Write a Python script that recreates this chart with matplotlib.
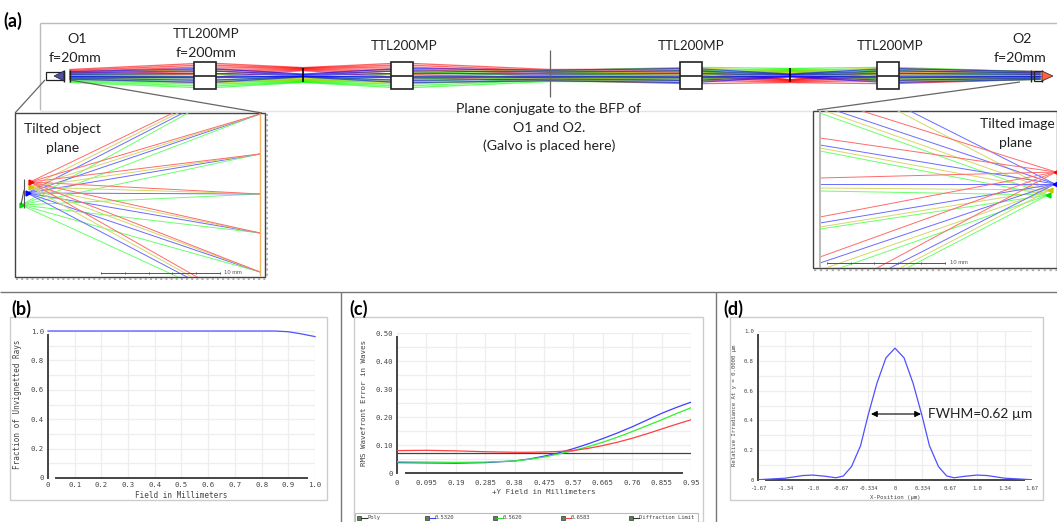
import numpy as np
import matplotlib
matplotlib.use('Agg')
import matplotlib.pyplot as plt
from matplotlib.patches import Rectangle, Polygon

W = 1057
H = 522
SANS = 'Lato'
MONO = 'DejaVu Sans Mono'

# (a) relay bundle, offsets in px around the axis
station_x = [70, 207, 303, 402, 550, 691, 790, 889, 1040]
red_centre = [-1, -3, -6, -3, 1, 3, 6, 3, 1]
yellow_centre = [0, 1, 3, 1, 0, -1, -3, -1, 0]
blue_centre = [0, 0, 0, 0, 0, 0, 0, 0, 0]
green_centre = [2, 3, 5, 3, -1, -3, -6, -3, -1]
half_width = [5, 9.5, 1.9, 9.5, 7, 9.5, 1.9, 9.5, 5]
red_frac = [-1, -0.8, -0.6, -0.35, -0.1, 0.2, 0.55]
yellow_frac = [-0.7, -0.3, 0.05, 0.4, 0.7]
blue_frac = [-0.75, -0.5, -0.22, 0.0, 0.25, 0.52, 0.75]
green_frac = [-0.55, -0.2, 0.1, 0.35, 0.6, 0.8, 1]

lens_x = [194, 391, 680, 877]

# (a) left inset
left_src = {'r': (30, 182), 'y': (30, 187), 'b': (27, 193), 'g': (21, 205)}
left_targets = [114, 154, 194, 233, 272]
left_top_x = {'r': 173, 'y': 178, 'b': 183, 'g': 188}
left_bot_x = {'r': 197, 'y': 192, 'b': 187, 'g': 178}

# (a) right inset
right_src = {'r': (1056, 172), 'y': (1050, 190), 'b': (1055, 184), 'g': (1048, 195)}
right_ends = {
    'r': [(862, 111), (820, 138), (820, 178), (820, 217), (820, 257), (877, 268)],
    'y': [(898, 111), (825, 111), (820, 148), (820, 188), (820, 227), (820, 270), (900, 268)],
    'b': [(910, 111), (837, 111), (820, 145), (820, 184), (820, 223), (820, 263), (890, 268)],
    'g': [(820, 113), (820, 151), (820, 191), (820, 229), (820, 275), (907, 268)],
}
ray_col = {'r': '#ff6a6a', 'y': '#d6d66a', 'b': '#6a6aff', 'g': '#6aff6a'}
tip_col = {'r': '#ff0000', 'y': '#c8c800', 'b': '#0000ff', 'g': '#00e000'}

# (b)
b_x = [0, 0.85, 0.9, 0.95, 1.0]
b_y = [1.0, 1.0, 0.995, 0.98, 0.962]
b_xticks = [0, 0.1, 0.2, 0.3, 0.4, 0.5, 0.6, 0.7, 0.8, 0.9, 1.0]
b_xlabels = ['0', '0.1', '0.2', '0.3', '0.4', '0.5', '0.6', '0.7', '0.8', '0.9', '1.0']

# (c)
c_ticks = [0, 0.095, 0.19, 0.285, 0.38, 0.475, 0.57, 0.665, 0.76, 0.855, 0.95]
c_labels = ['0', '0.095', '0.19', '0.285', '0.38', '0.475', '0.57', '0.665', '0.76', '0.855', '0.95']
c_x = [0, 0.095, 0.19, 0.285, 0.38, 0.4275, 0.475, 0.5225, 0.57, 0.6175, 0.665, 0.7125, 0.76, 0.8075, 0.855, 0.9025, 0.95]
c_blue = [0.037, 0.036, 0.035, 0.037, 0.043, 0.050, 0.060, 0.072, 0.087, 0.104, 0.123, 0.143, 0.165, 0.189, 0.213, 0.234, 0.253]
c_green = [0.040, 0.039, 0.038, 0.039, 0.043, 0.049, 0.057, 0.068, 0.080, 0.094, 0.110, 0.128, 0.148, 0.169, 0.190, 0.212, 0.233]
c_red = [0.080, 0.081, 0.079, 0.076, 0.074, 0.074, 0.075, 0.077, 0.080, 0.088, 0.098, 0.110, 0.124, 0.140, 0.157, 0.174, 0.190]
c_limit_x = [0, 0.95]
c_limit = [0.073, 0.073]
c_legend = ['Poly', '0.5320', '0.5620', '0.6583', 'Diffraction Limit']
c_legend_col = ['#333333', '#4040ff', '#30e030', '#ff4040', '#333333']
c_legend_x = [357, 425, 493, 561, 629]

# (d)
d_x = [-1.67, -1.34, -1.12, -1.0, -0.85, -0.72, -0.63, -0.53, -0.42, -0.33, -0.22, -0.11, 0,
       0.11, 0.22, 0.33, 0.42, 0.53, 0.63, 0.72, 0.85, 1.0, 1.12, 1.34, 1.67]
d_y = [0.002, 0.012, 0.030, 0.033, 0.025, 0.015, 0.027, 0.09, 0.23, 0.43, 0.65, 0.82, 0.885,
       0.82, 0.65, 0.43, 0.23, 0.09, 0.027, 0.015, 0.025, 0.033, 0.030, 0.012, 0.002]
d_ticks = [-1.67, -1.34, -1.0, -0.67, -0.334, 0, 0.334, 0.67, 1.0, 1.34, 1.67]
d_labels = ['-1.67', '-1.34', '-1.0', '-0.67', '-0.334', '0', '0.334', '0.67', '1.0', '1.34', '1.67']

fig = plt.figure(figsize=(W / 100, H / 100), dpi=100)
bg = fig.add_axes([0, 0, 1, 1])
bg.set_xlim(0, W)
bg.set_ylim(H, 0)
bg.axis('off')


def txt(x, y, s, size=10.2, **kw):
    kw.setdefault('family', SANS)
    kw.setdefault('color', '#222222')
    kw.setdefault('ha', 'center')
    kw.setdefault('va', 'center')
    bg.text(x, y, s, fontsize=size, **kw)


def seg(xs, ys, c='#888888', lw=0.8, **kw):
    bg.plot(xs, ys, color=c, lw=lw, solid_capstyle='butt', **kw)


# frame of the layout
seg([40, W], [23, 23], '#bbbbbb', 1.0)
seg([40, 40], [23, 110], '#bbbbbb', 1.0)
seg([40, W], [111, 111], '#e4e4e4', 1.0)

# relay bundle
y0 = 75.5
pure = [('#ff0000', red_centre, red_frac), ('#00ff00', green_centre, green_frac),
        ('#c8c800', yellow_centre, yellow_frac), ('#0000ff', blue_centre, blue_frac)]
for c, centre, fracs in pure:
    for f in fracs:
        ys = [y0 + m + f * w for m, w in zip(centre, half_width)]
        bg.plot(station_x, ys, color=c, lw=0.95, alpha=0.6, zorder=2)

seg([550, 550], [50, 97], '#666666', 0.9, zorder=3)
seg([303, 303], [68, 82], 'black', 1.2, zorder=3)
seg([790, 790], [68, 82], 'black', 1.2, zorder=3)
for x in lens_x:
    bg.add_patch(Rectangle((x, 62), 22, 27, fc='white', ec='#222222', lw=1.2, zorder=4))
    seg([x, x + 22], [75.5, 75.5], '#222222', 1.2, zorder=5)

# objectives
bg.add_patch(Rectangle((46, 72), 18, 8, fc='white', ec='#222222', lw=0.9, zorder=4))
bg.add_patch(Polygon([(54, 76), (64, 71), (64, 81)], fc='#5050a0', ec='#222222', lw=0.5, zorder=5))
seg([64, 64], [70, 82], '#222222', 1.0, zorder=5)
seg([70, 70], [70, 82], '#222222', 1.0, zorder=5)
bg.add_patch(Rectangle((1034, 71), 8, 10, fc='none', ec='#222222', lw=0.9, zorder=5))
seg([1031, 1031], [70, 82], '#222222', 1.0, zorder=5)
seg([1042, 1042], [70, 82], '#222222', 1.0, zorder=5)
bg.add_patch(Polygon([(1042, 71), (1042, 81), (1053, 76)], fc='#ff6040', ec='#222222', lw=0.5, zorder=5))

# connector lines to the insets
seg([45, 15], [80, 113], '#666666', 0.9, zorder=3)
seg([70, 262], [80, 113], '#666666', 0.9, zorder=3)
seg([1020, 817], [82, 110], '#666666', 0.9, zorder=3)

# left inset
left_clip = Rectangle((15, 113), 250, 164, fc='white', ec='#444444', lw=1.0, zorder=6)
bg.add_patch(left_clip)
for k in ['g', 'b', 'y', 'r']:
    sx, sy = left_src[k]
    ends = [(left_top_x[k], 113), (left_bot_x[k], 277)] + [(260, t) for t in left_targets]
    for ex, ey in ends:
        ln, = bg.plot([sx, ex], [sy, ey], color=ray_col[k], lw=0.7, zorder=7)
        ln.set_clip_path(left_clip)
    bg.plot(sx + 1, sy, marker='>', ms=3.5, color=tip_col[k], zorder=8)
seg([260, 260], [114, 276], '#f5b060', 1.0, zorder=8)
seg([24, 24], [179, 208], '#555555', 0.8, zorder=8)
seg([24, 21], [190, 205], '#555555', 0.8, zorder=8)
seg([266.5, 266.5], [114, 278], '#aaaaaa', 1.4, ls=':', zorder=6)
seg([16, 266], [278.5, 278.5], '#aaaaaa', 1.4, ls=':', zorder=6)
seg([101, 220], [272.7, 272.7], '#555555', 0.7, zorder=9)
for x in [101, 125, 149, 172, 196, 220]:
    seg([x, x], [271.5, 274], '#555555', 0.7, zorder=9)
txt(233, 273, '10 mm', 4.2, family='Liberation Sans', color='#555555', zorder=9)
txt(62, 129, 'Tilted object', 10, zorder=10)
txt(63, 148, 'plane', 10, zorder=10)

# right inset
right_clip = Rectangle((813, 111), 244, 157, fc='white', ec='#444444', lw=1.0, zorder=6)
bg.add_patch(right_clip)
for k in ['g', 'y', 'b', 'r']:
    sx, sy = right_src[k]
    for ex, ey in right_ends[k]:
        ln, = bg.plot([sx, ex], [sy, ey], color=ray_col[k], lw=0.7, zorder=7)
        ln.set_clip_path(right_clip)
    bg.plot(sx, sy, marker='<', ms=3.5, color=tip_col[k], zorder=8)
seg([820, 820], [111, 268], '#bbbbbb', 1.5, zorder=8)
seg([814, W], [269.5, 269.5], '#aaaaaa', 1.6, ls=':', zorder=6)
seg([827, 945], [263, 263], '#555555', 0.7, zorder=9)
for x in [827, 851, 874, 898, 921, 945]:
    seg([x, x], [261.8, 264.2], '#555555', 0.7, zorder=9)
txt(959, 263, '10 mm', 4.2, family='Liberation Sans', color='#555555', zorder=9)
txt(1017, 124, 'Tilted image', 10, zorder=10)
txt(1016, 143, 'plane', 10, zorder=10)

# labels of (a)
txt(13, 21, '(a)', 13, weight='bold', color='black')
txt(77, 39, 'O1')
txt(75, 58, 'f=20mm')
txt(206, 34, 'TTL200MP', 9.6)
txt(206, 53, 'f=200mm')
txt(404, 46, 'TTL200MP', 9.6)
txt(691, 46, 'TTL200MP', 9.6)
txt(890, 46, 'TTL200MP', 9.6)
txt(1022, 39, 'O2')
txt(1020, 58, 'f=20mm')
txt(549, 109, 'Plane conjugate to the BFP of')
txt(549, 128, 'O1 and O2.')
txt(549, 146, '(Galvo is placed here)')

# separators and panel frames
seg([0, W], [292, 292], '#777777', 1.0)
seg([341, 341], [292, H], '#777777', 1.0)
seg([716, 716], [292, H], '#777777', 1.0)
for x0, x1, y1 in [(10, 327, 500), (354, 703, 522), (730, 1043, 500)]:
    bg.add_patch(Rectangle((x0, 317), x1 - x0, y1 - 317, fc='none', ec='#cccccc', lw=1.0))
txt(21, 309, '(b)', 13, weight='bold', color='black')
txt(359, 309, '(c)', 13, weight='bold', color='black')
txt(733, 309, '(d)', 13, weight='bold', color='black')


def plot_axes(x0, x1, y0, y1, xlim, ylim, xticks, xlabels, yticks, ylabels, yminor, xlabel, ylabel, fs, lfs, ypad, xpad):
    ax = fig.add_axes([x0 / W, 1 - y1 / H, (x1 - x0) / W, (y1 - y0) / H])
    ax.set_xlim(*xlim)
    ax.set_ylim(*ylim)
    ax.set_xticks(xticks, xlabels, family=MONO, fontsize=fs, color='#444444')
    ax.set_yticks(yticks, ylabels, family=MONO, fontsize=fs, color='#444444')
    ax.set_yticks(yminor, minor=True)
    ax.tick_params(length=0, which='both', pad=3)
    ax.grid(True, which='both', color='#eeeeee', lw=0.9)
    ax.set_axisbelow(True)
    for s in ax.spines.values():
        s.set_visible(False)
    ax.set_xlabel(xlabel, family=MONO, fontsize=lfs, color='#444444', labelpad=xpad)
    ax.set_ylabel(ylabel, family=MONO, fontsize=lfs, color='#444444', labelpad=ypad)
    ax.plot([0.0, 0.0], [0.0, 0.97], transform=ax.transAxes, color='#444444', lw=1.4, clip_on=False)
    ax.plot([0.03, 0.97], [0.0, 0.0], transform=ax.transAxes, color='#444444', lw=1.4, clip_on=False)
    return ax


ax_b = plot_axes(48, 315, 331, 478, (0, 1), (0, 1), b_xticks, b_xlabels,
                 [0, 0.2, 0.4, 0.6, 0.8, 1.0], ['0', '0.2', '0.4', '0.6', '0.8', '1.0'],
                 [0.1, 0.3, 0.5, 0.7, 0.9],
                 'Field in Millimeters', 'Fraction of Unvignetted Rays', 5.2, 5.5, 6, 2)
ax_b.plot(b_x, b_y, color='#5050ff', lw=0.9, clip_on=False)

ax_c = plot_axes(397, 691, 333, 473, (0, 0.95), (0, 0.5), c_ticks, c_labels,
                 [0, 0.1, 0.2, 0.3, 0.4, 0.5], ['0', '0.10', '0.20', '0.30', '0.40', '0.50'],
                 [0.05, 0.15, 0.25, 0.35, 0.45],
                 '+Y Field in Millimeters', 'RMS Wavefront Error in Waves', 5.2, 5.4, 6, 2)
ax_c.tick_params(axis='x', pad=5)
ax_c.plot(c_limit_x, c_limit, color='#444444', lw=0.9)
ax_c.plot(c_x, c_blue, color='#4040ff', lw=0.9)
ax_c.plot(c_x, c_green, color='#30f030', lw=0.9)
ax_c.plot(c_x, c_red, color='#ff4040', lw=0.9)

ax_d = plot_axes(758, 1032, 331, 480, (-1.67, 1.67), (0, 1), d_ticks, d_labels,
                 [0, 0.2, 0.4, 0.6, 0.8, 1.0], ['0', '0.2', '0.4', '0.6', '0.8', '1.0'],
                 [0.1, 0.3, 0.5, 0.7, 0.9],
                 'X-Position (µm)', 'Relative Irradiance At y = 0.0000 µm', 4.0, 4.1, 5, 3)
ax_d.tick_params(axis='x', pad=4)
ax_d.plot(d_x, d_y, color='#5050ff', lw=0.9)

# legend strip of (c)
top = fig.add_axes([0, 0, 1, 1], facecolor='none')
top.set_xlim(0, W)
top.set_ylim(H, 0)
top.axis('off')
top.add_patch(Rectangle((355, 513), 343, 9.5, fc='white', ec='#bbbbbb', lw=0.8))
for x, c, s in zip(c_legend_x, c_legend_col, c_legend):
    top.add_patch(Rectangle((x, 516), 3.5, 3.5, fc='#558855', ec='#333333', lw=0.5))
    top.plot([x + 4, x + 9.5], [517.7, 517.7], color=c, lw=0.8)
    top.text(x + 10, 517.7, s, family=MONO, fontsize=4.0, color='#444444', va='center')

# FWHM marker of (d)
top.annotate('', xy=(871, 414), xytext=(921, 414),
             arrowprops=dict(arrowstyle='<|-|>', color='black', lw=0.8, shrinkA=0, shrinkB=0, mutation_scale=9))
top.text(928, 414, 'FWHM=0.62 µm', family=SANS, fontsize=9.9, color='#222222', va='center')

fig.savefig('out.png', dpi=100)
